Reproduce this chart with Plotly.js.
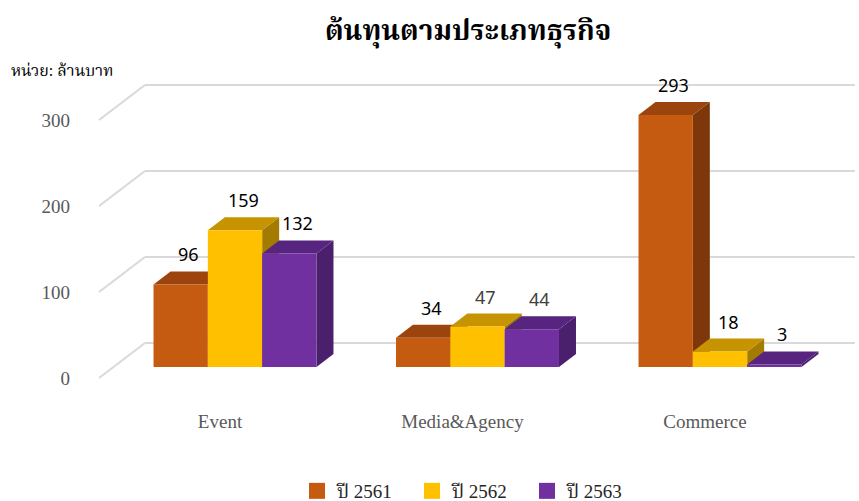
<!DOCTYPE html>
<html>
<head>
<meta charset="utf-8">
<script src="https://cdn.plot.ly/plotly-3.0.1.min.js"></script>
<style>html,body{margin:0;padding:0;background:#fff}</style>
</head>
<body>
<div id="chart" style="width:859px;height:501px"></div>
<script>
// ---- data ----
const categories = ["Event", "Media&Agency", "Commerce"];
const seriesNames = ["ปี 2561", "ปี 2562", "ปี 2563"];
const y2561 = [96, 34, 293];
const y2562 = [159, 47, 18];
const y2563 = [132, 44, 3];
const yTicks = [0, 100, 200, 300];

// ---- style ----
const seriesValues = [y2561, y2562, y2563];
const frontColors = ["#C55A11", "#FFC000", "#7030A0"];
const topColors = ["#9B440E", "#C59400", "#572580"];
const sideColors = ["#7E370B", "#A37B00", "#4A1F6B"];
const labelColors = [["#000", "#000", "#000"], ["#000", "#404040", "#404040"], ["#000", "#000", "#000"]];
const SERIF = "'Liberation Serif', 'Times New Roman', 'Noto Serif Thai', 'Noto Sans Thai', serif";

const W = 859, H = 501;
const M = {l: 145, r: 4, t: 60, b: 101, autoexpand: false};
const plotW = W - M.l - M.r, plotH = H - M.t - M.b;
const bottomPx = H - M.b;
const scale = 0.86;            // px per value unit
const pxPerX = 242.5;          // px per category
const firstCatPx = 235;
const bargap = 0.328;
const depthX = 17, depthYpx = 13;
const depthY = depthYpx / scale;
const barZeroPx = 367, wallFrontZeroPx = 378, wallBackZeroPx = 343;

function yRange(zeroPx) {
  const lo = -(bottomPx - zeroPx) / scale;
  return [lo, lo + plotH / scale];
}
const xlo = (M.l - firstCatPx) / pxPerX;
const xRange = [xlo, xlo + plotW / pxPerX];

const catX = categories.map((c, i) => i);
const barW = (1 - bargap) / seriesValues.length;
const halfPx = barW * pxPerX / 2;

const traces = [];
seriesValues.forEach((vals, s) => {
  traces.push({
    type: "bar", x: catX, y: vals, name: seriesNames[s],
    marker: {color: frontColors[s], line: {width: 0}},
    showlegend: false, hoverinfo: "skip"
  });
});
seriesValues.forEach((vals, s) => {
  traces.push({
    type: "scatter", mode: "markers", x: [null], y: [null], name: seriesNames[s],
    marker: {symbol: "square", size: 20, color: frontColors[s]}, showlegend: true
  });
});
// dummy traces so overlay axes render
traces.push({type: "scatter", x: [null], y: [null], yaxis: "y2", showlegend: false, hoverinfo: "skip"});
traces.push({type: "scatter", x: [null], y: [null], yaxis: "y3", showlegend: false, hoverinfo: "skip"});

const shapes = [];
const annotations = [];
categories.forEach((c, ci) => {
  seriesValues.forEach((vals, s) => {
    const v = vals[ci];
    const xa = ci + (s - (seriesValues.length - 1) / 2) * barW;
    shapes.push({
      type: "path", layer: "between", xref: "x", yref: "y", xsizemode: "pixel", xanchor: xa,
      path: `M ${halfPx},${v} L ${halfPx + depthX},${v + depthY} L ${halfPx + depthX},${depthY} L ${halfPx},0 Z`,
      fillcolor: sideColors[s], line: {width: 0}
    });
    shapes.push({
      type: "path", layer: "between", xref: "x", yref: "y", xsizemode: "pixel", xanchor: xa,
      path: `M ${-halfPx},${v} L ${halfPx},${v} L ${halfPx + depthX},${v + depthY} L ${-halfPx + depthX},${v + depthY} Z`,
      fillcolor: topColors[s], line: {width: 0}
    });
    annotations.push({
      xref: "x", yref: "y", x: xa, y: v, text: String(v), showarrow: false,
      xshift: 8, yshift: 30, font: {family: "'Noto Sans', Roboto, sans-serif", size: 18, color: labelColors[ci][s]}
    });
  });
});

// side-wall diagonals for the gridlines (bar-axis units)
const frontOff = -(wallFrontZeroPx - barZeroPx) / scale;
const backOff = (barZeroPx - wallBackZeroPx) / scale;
yTicks.forEach(t => {
  shapes.push({
    type: "line", layer: "below", xref: "paper", yref: "y",
    x0: (99 - M.l) / plotW, x1: 0, y0: t + frontOff, y1: t + backOff,
    line: {color: "#D9D9D9", width: 2}
  });
});

annotations.push({
  xref: "paper", yref: "paper", x: (9 - M.l) / plotW, y: (bottomPx - 70) / plotH,
  xanchor: "left", yanchor: "middle", showarrow: false, text: "หน่วย: ล้านบาท",
  font: {family: SERIF, size: 16, color: "#000"}
});

const layout = {
  width: W, height: H, margin: M,
  paper_bgcolor: "#fff", plot_bgcolor: "rgba(0,0,0,0)",
  title: {text: "<b>ต้นทุนตามประเภทธุรกิจ</b>", x: 0.545, xanchor: "center", y: 0.94, yanchor: "middle",
          font: {family: SERIF, size: 28, color: "#000"}},
  barmode: "group", bargap: bargap, bargroupgap: 0,
  xaxis: {range: xRange, tickvals: catX, ticktext: categories, showgrid: false, zeroline: false,
          showline: false, ticks: "", ticklabelshift: -15, ticklabelstandoff: 8,
          tickfont: {family: SERIF, size: 19, color: "#595959"}, fixedrange: true},
  yaxis: {range: yRange(barZeroPx), showgrid: false, zeroline: false, showline: false,
          showticklabels: false, ticks: ""},
  yaxis2: {range: yRange(wallBackZeroPx), overlaying: "y", tickvals: yTicks, showgrid: true, gridcolor: "#D9D9D9",
           gridwidth: 2, zeroline: false, showticklabels: false, ticks: ""},
  yaxis3: {range: yRange(wallFrontZeroPx), overlaying: "y", side: "left", tickvals: yTicks, showgrid: false,
           zeroline: false, showline: false, ticks: "", ticklabelstandoff: 74,
           tickfont: {family: SERIF, size: 19, color: "#595959"}},
  shapes: shapes,
  annotations: annotations,
  showlegend: true,
  legend: {orientation: "h", x: (297 - M.l) / plotW, xanchor: "left", y: -(491 - bottomPx) / plotH, yanchor: "middle",
           entrywidth: 70, entrywidthmode: "pixels", font: {family: SERIF, size: 19, color: "#262626"},
           bgcolor: "rgba(0,0,0,0)"}
};

Plotly.newPlot("chart", traces, layout, {displayModeBar: false, staticPlot: true});
</script>
</body>
</html>
